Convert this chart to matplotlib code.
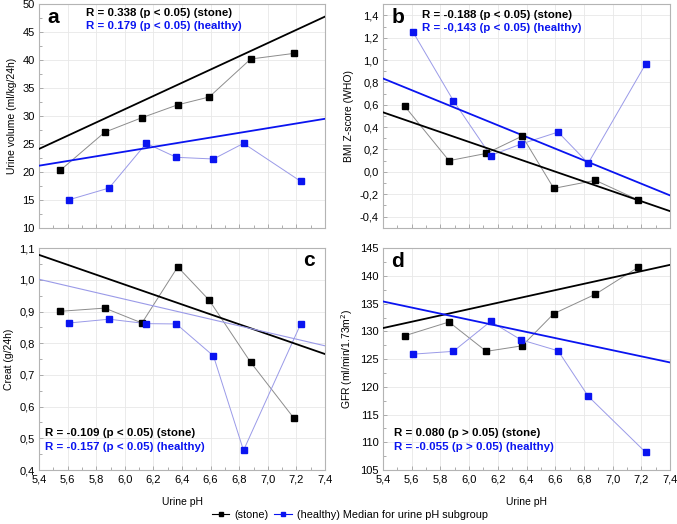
import matplotlib
matplotlib.use('Agg')
import matplotlib.pyplot as plt
import matplotlib.ticker as ticker
from matplotlib.lines import Line2D

plt.rcParams['font.family'] = ['Liberation Sans', 'DejaVu Sans']
plt.rcParams['font.size'] = 7.5

#%% Data (medians per urine pH subgroup)
ph_stone = [5.55, 5.86, 6.12, 6.37, 6.59, 6.88, 7.18]
ph_healthy = [5.61, 5.89, 6.15, 6.36, 6.62, 6.83, 7.23]

vol_stone = [20.3, 27.1, 29.7, 32.0, 33.4, 40.2, 41.2]
vol_healthy = [15.0, 17.1, 25.1, 22.6, 22.3, 25.1, 18.3]

bmi_stone = [0.59, 0.10, 0.165, 0.32, -0.148, -0.076, -0.253]
bmi_healthy = [1.25, 0.638, 0.146, 0.248, 0.356, 0.077, 0.965]

creat_stone = [0.901, 0.911, 0.864, 1.041, 0.936, 0.740, 0.565]
creat_healthy = [0.864, 0.876, 0.862, 0.861, 0.760, 0.462, 0.861]

gfr_stone = [129.2, 131.7, 126.4, 127.4, 133.2, 136.7, 141.6]
gfr_healthy = [125.9, 126.4, 131.8, 128.5, 126.5, 118.3, 108.2]

# Regression lines, values at pH 5.4 and 7.4
fit_x = [5.4, 7.4]
vol_fit_stone = [24.1, 47.8]
vol_fit_healthy = [21.1, 29.5]
bmi_fit_stone = [0.533, -0.352]
bmi_fit_healthy = [0.836, -0.211]
creat_fit_stone = [1.079, 0.766]
creat_fit_healthy = [1.002, 0.792]
gfr_fit_stone = [130.6, 142.0]
gfr_fit_healthy = [135.4, 124.4]

#%% Colours
black = '#000000'
blue = '#0a14f0'
grey_link = '#8c8c8c'
blue_link = '#9a9ae8'

#%% Figure
fig = plt.figure(figsize=(6.77, 5.24), dpi=100)

ax_a = fig.add_axes([0.0576, 0.5655, 0.4225, 0.4263])
ax_b = fig.add_axes([0.5657, 0.5655, 0.4240, 0.4263])
ax_c = fig.add_axes([0.0576, 0.1030, 0.4225, 0.4233])
ax_d = fig.add_axes([0.5657, 0.1030, 0.4240, 0.4233])


def draw(ax, ys, yh, fs, fh, ylim, ystep, yminor, ylabel, thin_blue=False):
    ax.plot(ph_stone, ys, color=grey_link, lw=0.7, zorder=2)
    ax.plot(ph_healthy, yh, color=blue_link, lw=0.7, zorder=2)
    ax.plot(fit_x, fs, color=black, lw=1.3, zorder=3)
    if thin_blue:
        ax.plot(fit_x, fh, color=blue_link, lw=0.8, zorder=3)
    else:
        ax.plot(fit_x, fh, color=blue, lw=1.3, zorder=3)
    ax.plot(ph_stone, ys, ls='none', marker='s', ms=4.2, color=black, zorder=4)
    ax.plot(ph_healthy, yh, ls='none', marker='s', ms=4.2, color=blue, zorder=4)

    ax.set_xlim(5.4, 7.4)
    ax.set_ylim(*ylim)
    ax.xaxis.set_major_locator(ticker.MultipleLocator(0.2))
    ax.xaxis.set_minor_locator(ticker.MultipleLocator(0.1))
    ax.yaxis.set_major_locator(ticker.MultipleLocator(ystep))
    ax.yaxis.set_minor_locator(ticker.MultipleLocator(yminor))
    ax.tick_params(which='both', direction='in', color='#a0a0a0', width=0.6)
    ax.tick_params(which='major', length=3, labelsize=8, pad=3)
    ax.tick_params(which='minor', length=2)
    ax.grid(True, which='major', color='#e8e8e8', lw=0.6, zorder=0)
    for sp in ax.spines.values():
        sp.set_color('#b4b4b4')
        sp.set_linewidth(0.8)
    ax.set_ylabel(ylabel, fontsize=7.5, labelpad=4)


draw(ax_a, vol_stone, vol_healthy, vol_fit_stone, vol_fit_healthy,
     (10, 50), 5, 2.5, 'Urine volume (ml/kg/24h)')
draw(ax_b, bmi_stone, bmi_healthy, bmi_fit_stone, bmi_fit_healthy,
     (-0.5, 1.5), 0.2, 0.1, 'BMI Z-score (WHO)')
draw(ax_c, creat_stone, creat_healthy, creat_fit_stone, creat_fit_healthy,
     (0.4, 1.1), 0.1, 0.05, 'Creat (g/24h)', thin_blue=True)
draw(ax_d, gfr_stone, gfr_healthy, gfr_fit_stone, gfr_fit_healthy,
     (105, 145), 5, 2.5, 'GFR (ml/min/1.73m$^2$)')

# decimal comma for the non-integer axes
comma = ticker.FuncFormatter(lambda v, p: f'{v:.1f}'.replace('.', ','))
for ax in (ax_a, ax_b, ax_c, ax_d):
    ax.xaxis.set_major_formatter(comma)
ax_b.yaxis.set_major_formatter(comma)
ax_c.yaxis.set_major_formatter(comma)
ax_a.tick_params(labelbottom=False)
ax_b.tick_params(labelbottom=False)

for ax in (ax_c, ax_d):
    ax.set_xlabel('Urine pH', fontsize=7.5, labelpad=9)

#%% Panel letters and R texts
ax_a.text(0.03, 0.94, 'a', transform=ax_a.transAxes, fontsize=15,
          fontweight='bold', va='center', ha='left')
ax_b.text(0.03, 0.94, 'b', transform=ax_b.transAxes, fontsize=15,
          fontweight='bold', va='center', ha='left')
ax_c.text(0.965, 0.945, 'c', transform=ax_c.transAxes, fontsize=15,
          fontweight='bold', va='center', ha='right')
ax_d.text(0.03, 0.94, 'd', transform=ax_d.transAxes, fontsize=15,
          fontweight='bold', va='center', ha='left')

def r_text(ax, x, y1, y2, s1, s2):
    ax.text(x, y1, s1, transform=ax.transAxes, fontsize=8.25,
            fontweight='bold', color=black, va='center')
    ax.text(x, y2, s2, transform=ax.transAxes, fontsize=8.25,
            fontweight='bold', color=blue, va='center')

r_text(ax_a, 0.164, 0.962, 0.902,
       'R = 0.338 (p < 0.05) (stone)', 'R = 0.179 (p < 0.05) (healthy)')
r_text(ax_b, 0.136, 0.953, 0.893,
       'R = -0.188 (p < 0.05) (stone)', 'R = -0,143 (p < 0.05) (healthy)')
r_text(ax_c, 0.022, 0.165, 0.104,
       'R = -0.109 (p < 0.05) (stone)', 'R = -0.157 (p < 0.05) (healthy)')
r_text(ax_d, 0.04, 0.169, 0.106,
       'R = 0.080 (p > 0.05) (stone)', 'R = -0.055 (p > 0.05) (healthy)')

#%% Legend
handles = [Line2D([], [], color=black, lw=0.8, marker='s', ms=3.2),
           Line2D([], [], color=blue, lw=0.8, marker='s', ms=3.2)]
fig.legend(handles, ['(stone)', '(healthy) Median for urine pH subgroup'],
           loc='center', bbox_to_anchor=(0.517, 0.017), ncol=2, frameon=False,
           fontsize=7.8, handlelength=1.6, handletextpad=0.5, columnspacing=0.5)

fig.savefig('out.png', dpi=100)
